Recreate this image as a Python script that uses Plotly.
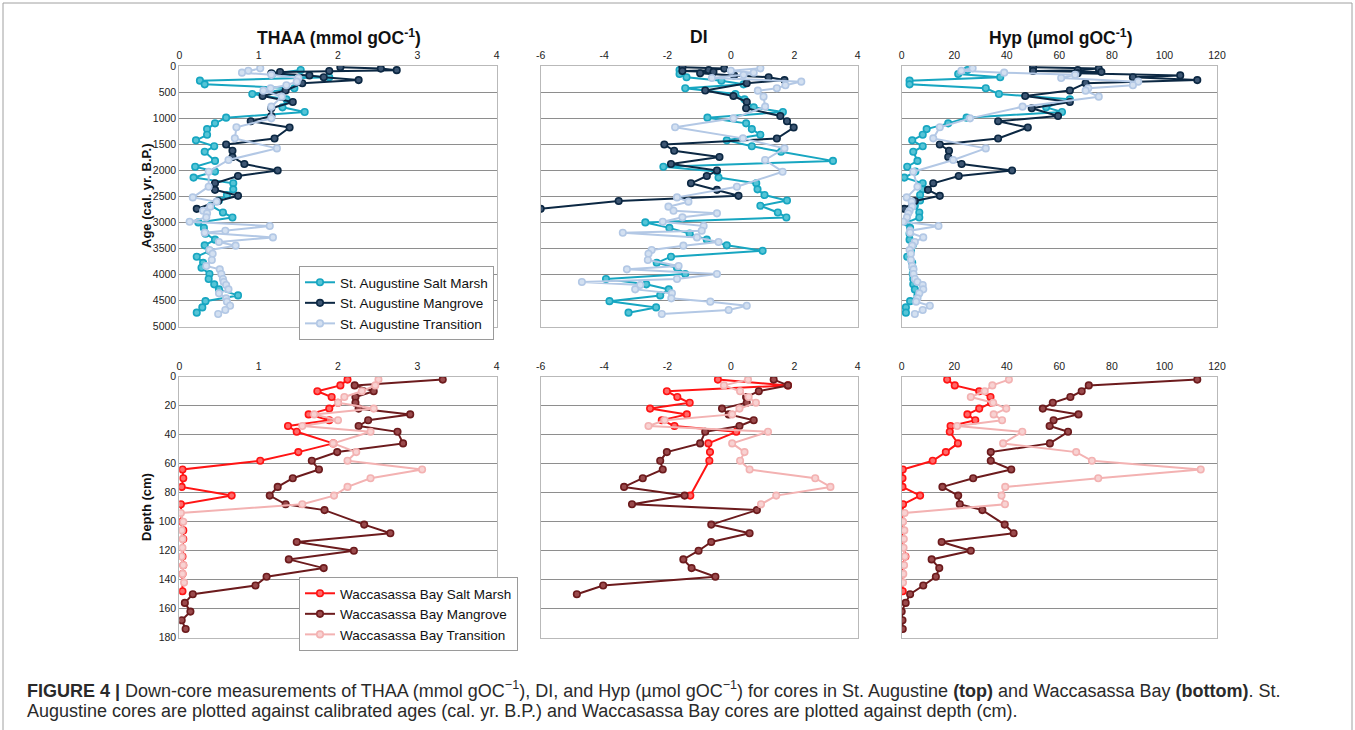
import plotly.graph_objects as go

# ---------------- St. Augustine (top row, vs age) ----------------
age_sa_sm = [77, 153, 217, 281, 352, 428, 537, 640, 793, 882, 991, 1100, 1210, 1320, 1426,
             1540, 1645, 1820, 1931, 2025, 2140, 2250, 2366, 2475, 2580, 2680, 2810, 2905,
             3000, 3105, 3215, 3330, 3440, 3545, 3657, 3775, 3870, 3990, 4086, 4188, 4285,
             4400, 4510, 4630, 4731]
thaa_sa_sm = [1.53, 1.17, 1.89, 0.26, 0.32, 1.45, 0.92, 1.35, 1.30, 1.58, 0.59, 0.45, 0.35, 0.35,
              0.21, 0.44, 0.32, 0.45, 0.20, 0.45, 0.18, 0.68, 0.68, 0.60, 0.50, 0.40, 0.55, 0.67,
              0.24, 0.31, 0.33, 0.45, 0.32, 0.38, 0.22, 0.30, 0.28, 0.38, 0.37, 0.44, 0.50, 0.74,
              0.33, 0.29, 0.22]
di_sa_sm = [-1.62, -1.62, -1.4, -0.3, 0.4, -1.44, 0.14, 0.43, 0.72, 1.64, -0.74, 0.48, 0.66, 0.93,
            -0.13, 0.66, 1.58, 3.22, -2.13, -0.44, -0.39, 0.8, 0.84, 1.06, 1.77, 0.93, 1.48, 1.75,
            -2.7, -1.94, -1.3, -0.76, -0.13, 1.0, -1.89, -2.34, -1.7, -1.44, -3.94, -2.67, -1.96,
            -2.23, -3.83, -2.36, -3.23]
hyp_sa_sm = [25, 21.5, 37.5, 3, 3, 32, 37, 64, 55, 61, 24.7, 17.7, 9.5, 8, 4, 8, 4.4, 6, 2.1, 5.2,
             1, 8, 8, 7, 7, 5, 6.7, 6.7, 2, 3.2, 3, 3, 4.2, 3.5, 2.1, 4, 4.2, 4.2, 4.4, 4.4, 5, 6,
             3.2, 1.6, 1.6]

age_sa_mg = [25, 50, 80, 95, 115, 140, 180, 215, 270, 330, 470, 575, 690, 810, 960, 1060, 1180,
             1390, 1505, 1625, 1745, 1880, 2005, 2110, 2250, 2375, 2490, 2590, 2740]
thaa_sa_mg = [2.03, 2.54, 2.74, 1.89, 1.27, 1.16, 1.64, 1.82, 2.26, 1.55, 1.34, 1.05, 1.43, 1.16,
              1.16, 0.90, 1.39, 1.20, 0.59, 0.67, 0.67, 0.82, 1.24, 0.74, 0.45, 0.45, 0.74, 0.49, 0.22]
di_sa_mg = [-1.53, -0.21, -0.7, -1.53, -0.55, -0.97, 0.1, 1.19, 1.69, 0.5, -0.81, 0.08, 0.5, 0.48,
            1.56, 1.77, 1.98, 1.45, -2.1, -1.79, -0.36, -1.89, -0.44, -0.76, -1.26, -0.44, 0.24,
            -3.54, -6.0]
hyp_sa_mg = [50, 75, 67, 50, 76, 67, 106, 88, 112.5, 70, 64, 47, 64, 49.5, 59.5, 36.7, 48, 36.7,
             14.5, 18, 17.7, 22.8, 42, 21.7, 12, 10, 14.5, 5, 1]

age_sa_tr = [45, 90, 128, 170, 230, 300, 370, 428, 473, 588, 780, 1004, 1176, 1388, 1580, 1803,
             2027, 2315, 2520, 2602, 2698, 2775, 2826, 2903, 2986, 3069, 3159, 3197, 3287, 3376,
             3446, 3530, 3600, 3720, 3836, 3900, 3990, 4086, 4143, 4200, 4284, 4360, 4456, 4520,
             4597, 4680, 4757]
thaa_sa_tr = [1.02, 0.87, 0.79, 1.16, 1.5, 1.48, 1.35, 1.15, 1.06, 1.29, 1.16, 1.16, 0.72, 0.70,
              1.23, 0.62, 0.37, 0.37, 0.17, 0.47, 0.39, 0.30, 0.35, 0.34, 0.13, 1.14, 0.58, 0.32,
              1.18, 0.50, 0.71, 0.38, 0.42, 0.41, 0.34, 0.51, 0.53, 0.55, 0.56, 0.59, 0.62, 0.50,
              0.59, 0.60, 0.64, 0.58, 0.49]
di_sa_tr = [0.93, 0.0, 0.72, 0.4, -0.6, 2.22, 1.72, 1.45, 0.85, 1.03, 1.08, 0.08, -1.76, 0.38, 1.69,
            1.08, 1.63, 0.19, -1.7, -1.34, -1.97, -1.81, -0.44, -1.53, -2.15, -0.86, -0.92, -3.41,
            -1.07, -0.39, -1.5, -2.5, -2.6, -2.62, -1.65, -3.28, -0.44, -1.7, -4.7, -2.86, -3.02,
            -1.86, -1.88, -0.65, 0.5, -0.07, -2.18]
hyp_sa_tr = [27, 22.7, 39, 66, 60.7, 90, 88, 71, 70, 75, 46, 26, 14.5, 12, 32, 19.6, 4.4, 6, 1.9,
             3.8, 4, 3, 2.5, 2, 0.6, 14, 3.2, 3.2, 8.2, 5, 4, 3, 3.5, 3.5, 4, 4.5, 4.5, 5, 6, 8,
             8.2, 6.7, 6, 5.5, 10.7, 8, 5]

# ---------------- Waccasassa Bay (bottom row, vs depth) ----------------
depth_wb_sm = [2, 6, 10, 14, 18, 22, 26, 30, 34, 38, 46, 52, 58, 64, 70, 76, 82, 88, 100, 106, 112,
               124, 130, 136, 148]
thaa_wb_sm = [2.12, 2.03, 1.74, 1.92, 2.0, 1.89, 1.63, 1.89, 1.37, 1.48, 1.94, 1.5, 1.02, 0.04,
              0.05, 0.03, 0.66, 0.02, 0.03, 0.05, 0.05, 0.04, 0.05, 0.04, 0.04]
di_wb_sm = [-0.41, 1.8, -2.02, -1.69, -1.3, -2.55, -1.39, -2.18, -1.78, 0.17, -0.71, -0.66, -0.68,
            None, None, None, -1.28, None, None, None, None, None, None, None, None]
hyp_wb_sm = [17.3, 20.2, 29.5, 33.8, 34, 29.5, 25, 28, 18.6, 18.3, 21.4, 16.8, 11.8, 0.4, 0.3, 0.3,
             7, 0.5, 0.3, 0.1, 0.3, 1.4, 0.5, 0.3, 0.4]

depth_wb_mg = [2, 6, 10, 14, 18, 22, 26, 30, 34, 38, 46, 52, 58, 64, 70, 76, 82, 88, 92, 102, 108,
               114, 120, 126, 132, 138, 144, 150, 156, 162, 168, 174]
thaa_wb_mg = [3.32, 2.21, 2.45, 2.22, 2.22, 2.26, 2.91, 2.38, 2.26, 2.75, 2.82, 1.99, 1.67, 1.76,
              1.43, 1.24, 1.14, 1.34, 1.83, 2.33, 2.66, 1.48, 2.2, 1.38, 1.82, 1.1, 0.96, 0.17, 0.07,
              0.14, 0.03, 0.08]
di_wb_mg = [1.35, 1.8, 0.88, 0.48, 0.5, -0.28, -0.07, 0.72, 0.27, -0.81, -0.97, -2.02, -2.23, -2.15,
            -2.78, -3.37, -1.46, -3.12, 0.82, -0.62, 0.59, -0.62, -1.02, -1.5, -1.24, -0.49, -4.03,
            -4.86, None, None, None, None]
hyp_wb_mg = [112.5, 71.2, 68.5, 64.2, 57.5, 53.7, 67.3, 57.8, 56.3, 63.3, 56.4, 33.9, 33.9, 41.7,
             27.2, 15.5, 21.5, 22.1, 30.7, 39.2, 42.6, 15.2, 26.3, 11.4, 14.3, 13, 8.2, 3.2, 1.5, 0,
             0.3, 0.4]

depth_wb_tr = [2, 6, 10, 14, 18, 22, 26, 30, 34, 38, 46, 52, 58, 64, 70, 76, 82, 88, 94, 100, 106,
               112, 118, 124, 130, 136, 142]
thaa_wb_tr = [2.51, 2.47, 2.3, 2.08, 2.0, 2.45, 1.7, 2.0, 1.55, 2.41, 1.94, 2.23, 2.12, 3.06, 2.41,
              2.12, 1.95, 1.55, 0.02, 0.05, 0.03, 0.04, 0.04, 0.03, 0.05, 0.04, 0.06]
di_wb_tr = [0.54, -0.22, 0.29, 0.56, 0.79, 0.27, 0.04, -2.09, -2.6, 1.17, 0.04, 0.43, 0.29, 0.59,
            2.66, 3.14, 1.43, 0.95, None, None, None, None, None, None, None, None, None]
hyp_wb_tr = [40.8, 34.5, 31.6, 26.3, 34.8, 39.8, 35, 38.2, 21.1, 45.9, 38.6, 66.4, 72.4, 113.8, 74.8,
             39.4, 38, 39.3, 1.1, 0.5, 1, 0.8, 0.7, 1.2, 0.9, 0.6, 0.5]

# ---------------- labels ----------------
panel_titles = ["<b>THAA (mmol gOC<sup>-1</sup>)</b>", "<b>DI</b>", "<b>Hyp (µmol gOC<sup>-1</sup>)</b>"]
top_ylabel = "<b>Age (cal. yr. B.P.)</b>"
bottom_ylabel = "<b>Depth (cm)</b>"
x_ranges = [[0, 4], [-6, 4], [0, 120]]
x_ticks = [[0, 1, 2, 3, 4], [-6, -4, -2, 0, 2, 4], [0, 20, 40, 60, 80, 100, 120]]
x_ticktext = [["0", "1", "2", "3", "4"], ["-6", "-4", "-2", "0", "2", "4"],
              ["0", "20", "40", "60", "80", "100", "120"]]
age_ticks = list(range(0, 5001, 500))
depth_ticks = list(range(0, 181, 20))

top_series = [
    ("St. Augustine Salt Marsh", "#17a6c1", "#56c4d6", age_sa_sm, [thaa_sa_sm, di_sa_sm, hyp_sa_sm]),
    ("St. Augustine Mangrove", "#0c2843", "#3d5673", age_sa_mg, [thaa_sa_mg, di_sa_mg, hyp_sa_mg]),
    ("St. Augustine Transition", "#b3c8e5", "#d3e0f1", age_sa_tr, [thaa_sa_tr, di_sa_tr, hyp_sa_tr]),
]
bottom_series = [
    ("Waccasassa Bay Salt Marsh", "#ff1414", "#ff6a6a", depth_wb_sm, [thaa_wb_sm, di_wb_sm, hyp_wb_sm]),
    ("Waccasassa Bay Mangrove", "#6c1b1d", "#9a4a4c", depth_wb_mg, [thaa_wb_mg, di_wb_mg, hyp_wb_mg]),
    ("Waccasassa Bay Transition", "#f3b2b2", "#f8d2d2", depth_wb_tr, [thaa_wb_tr, di_wb_tr, hyp_wb_tr]),
]

W, H = 1355, 730
FONT = "Liberation Sans, Arial, Helvetica, sans-serif"

def px_x(p):
    return p / W

def px_y(p):
    return 1 - p / H

col_px = [(179.3, 496.7), (540.7, 857.7), (901.7, 1217.0)]
row_px = [(66.0, 326.7), (376.7, 637.7)]

fig = go.Figure()
layout = dict()

for r in range(2):
    series = top_series if r == 0 else bottom_series
    legend_name = "legend" if r == 0 else "legend2"
    for c in range(3):
        i = r * 3 + c + 1
        xa = "x" if i == 1 else f"x{i}"
        ya = "y" if i == 1 else f"y{i}"
        for (name, col, fill, ys, vals) in series:
            fig.add_trace(go.Scatter(
                x=vals[c], y=ys, mode="lines+markers", name=name,
                line=dict(color=col, width=2),
                marker=dict(symbol="circle", size=6.5, color=fill, line=dict(color=col, width=1.6)),
                connectgaps=True, showlegend=(c == 0), legend=legend_name,
                xaxis=xa, yaxis=ya, cliponaxis=True,
            ))
        xkey = "xaxis" if i == 1 else f"xaxis{i}"
        ykey = "yaxis" if i == 1 else f"yaxis{i}"
        layout[xkey] = dict(
            domain=[px_x(col_px[c][0]), px_x(col_px[c][1])], anchor=ya, side="top",
            range=x_ranges[c], tickvals=x_ticks[c], ticktext=x_ticktext[c],
            showgrid=False, zeroline=False, showline=True, mirror=True, automargin=False,
            linecolor="#b9b9b9", linewidth=1, ticks="", ticklabelstandoff=2,
            tickfont=dict(size=10.5, color="#222", family=FONT), fixedrange=True,
        )
        yr = [5000, 0] if r == 0 else [180, 0]
        layout[ykey] = dict(
            domain=[px_y(row_px[r][1]), px_y(row_px[r][0])], anchor=xa, automargin=False,
            range=yr, tickvals=age_ticks if r == 0 else depth_ticks,
            showgrid=True, gridcolor="#8e8e8e", gridwidth=1, zeroline=False,
            showline=True, mirror=True, linecolor="#b9b9b9", linewidth=1, ticks="",
            showticklabels=(c == 0), tickfont=dict(size=10.5, color="#222", family=FONT),
            fixedrange=True,
        )

annotations = []
title_cx = [339, 699, 1060]
for c in range(3):
    annotations.append(dict(
        text=panel_titles[c], x=px_x(title_cx[c]), y=px_y(37), xref="paper", yref="paper",
        showarrow=False, font=dict(size=17.5, color="#111", family=FONT),
        xanchor="center", yanchor="middle"))
annotations.append(dict(text=top_ylabel, x=px_x(146), y=px_y(196), xref="paper", yref="paper",
                        showarrow=False, textangle=-90, font=dict(size=13, color="#111", family=FONT),
                        xanchor="center", yanchor="middle"))
annotations.append(dict(text=bottom_ylabel, x=px_x(146), y=px_y(507), xref="paper", yref="paper",
                        showarrow=False, textangle=-90, font=dict(size=13, color="#111", family=FONT),
                        xanchor="center", yanchor="middle"))

caption1 = ("<b>FIGURE 4 |</b> Down-core measurements of THAA (mmol gOC<sup>−1</sup>), DI, and Hyp "
            "(µmol gOC<sup>−1</sup>) for cores in St. Augustine <b>(top)</b> and Waccasassa Bay "
            "<b>(bottom)</b>. St.")
caption2 = ("Augustine cores are plotted against calibrated ages (cal. yr. B.P.) and Waccasassa Bay "
            "cores are plotted against depth (cm).")
annotations.append(dict(text=caption1, x=px_x(25), y=px_y(689), xref="paper", yref="paper",
                        showarrow=False, xanchor="left", yanchor="middle",
                        font=dict(size=18, color="#2a2a2a", family=FONT)))
annotations.append(dict(text=caption2, x=px_x(25), y=px_y(711), xref="paper", yref="paper",
                        showarrow=False, xanchor="left", yanchor="middle",
                        font=dict(size=18, color="#2a2a2a", family=FONT)))

legend_common = dict(
    xanchor="left", yanchor="top", bgcolor="white", bordercolor="#9a9a9a", borderwidth=1,
    font=dict(size=13.5, color="#111", family=FONT), tracegroupgap=0, itemwidth=30,
    orientation="v",
)

fig.update_layout(
    width=W, height=H, margin=dict(l=0, r=0, t=0, b=0, autoexpand=False),
    paper_bgcolor="white", plot_bgcolor="white",
    font=dict(family=FONT, color="#222"),
    annotations=annotations,
    legend=dict(x=px_x(299), y=px_y(266), **legend_common),
    legend2=dict(x=px_x(299), y=px_y(577), **legend_common),
    shapes=[dict(type="rect", xref="paper", yref="paper", x0=px_x(3), x1=px_x(1352),
                 y0=-0.05, y1=px_y(3), line=dict(color="#a0a0a0", width=1))],
    **layout,
)

fig.write_html("out.html", config={"displayModeBar": False},
               post_script="document.body.style.margin='0';document.body.style.overflow='hidden';")
